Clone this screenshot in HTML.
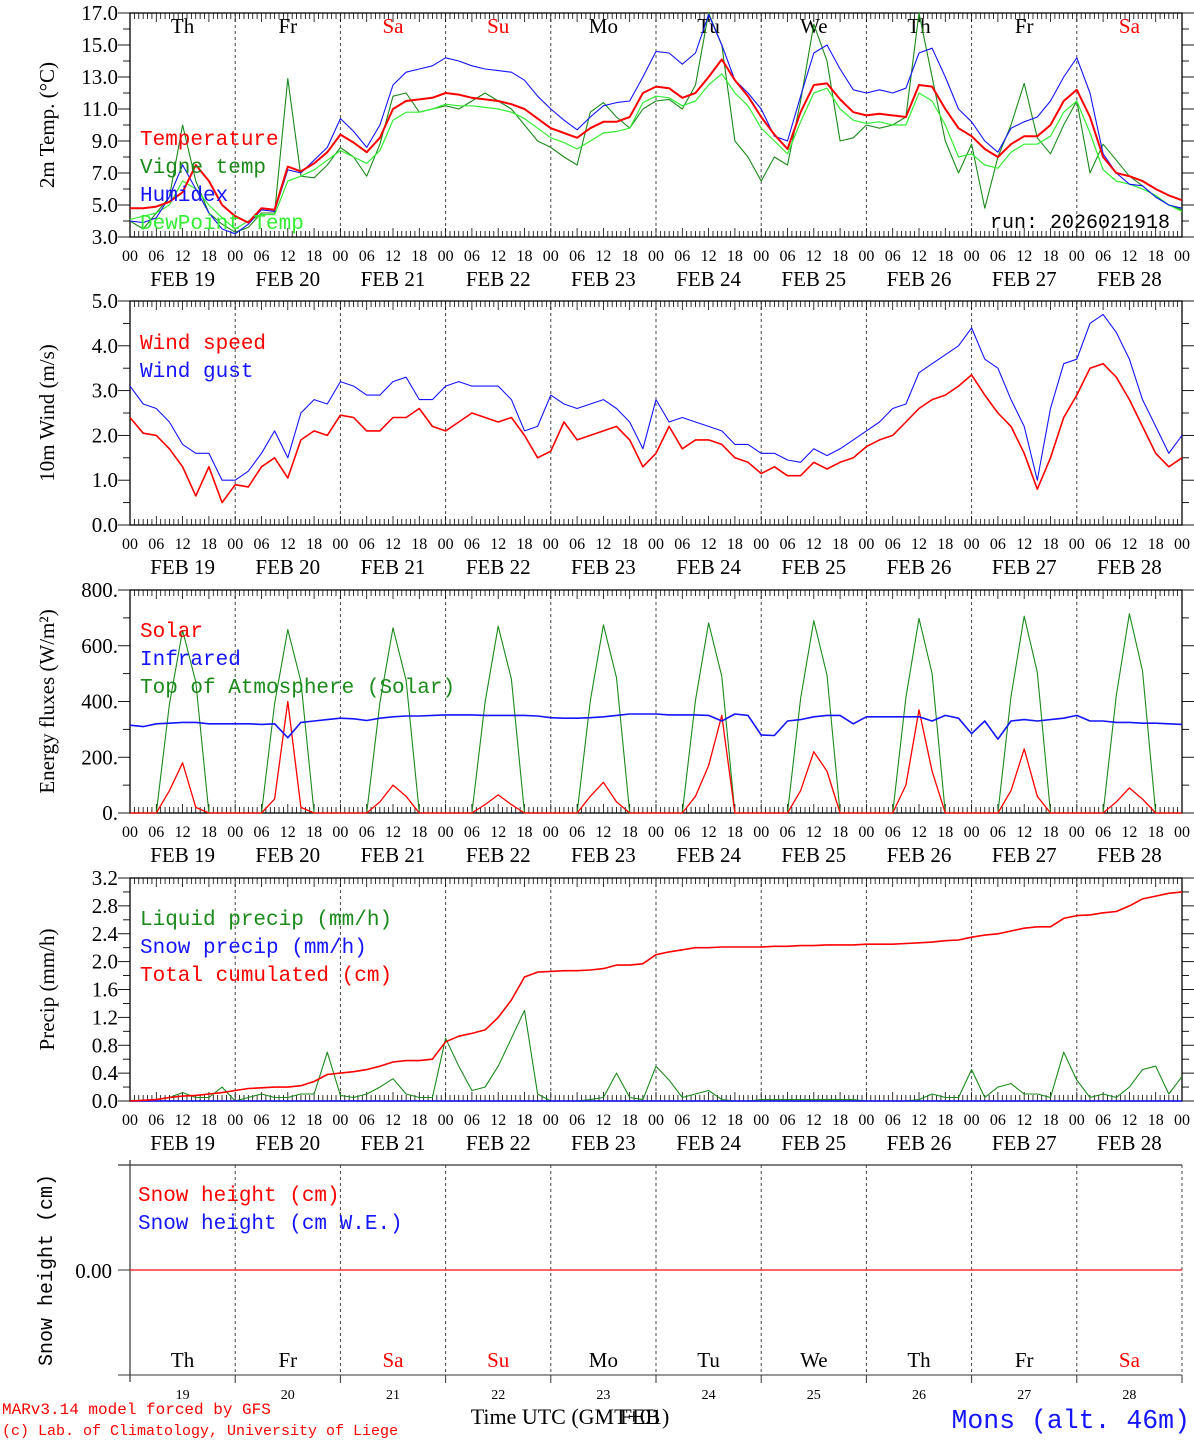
<!DOCTYPE html>
<html><head><meta charset="utf-8"><style>
body{margin:0;background:#fff}
svg{display:block}
</style></head><body>
<svg id="c" width="1194" height="1440" viewBox="0 0 1194 1440" xmlns="http://www.w3.org/2000/svg"></svg>
<script>
const days=['Th','Fr','Sa','Su','Mo','Tu','We','Th','Fr','Sa'];
const dayNums=['19','20','21','22','23','24','25','26','27','28'];
const temp=[4.8,4.8,4.9,5.2,5.8,7.5,6.5,5.0, 4.3,3.9,4.8,4.7,7.4,7.1,7.6,8.3, 9.4,8.9,8.3,9.2,11.0,11.5,11.6,11.7, 12.0,11.9,11.7,11.6,11.5,11.3,11.0,10.4, 9.8,9.5,9.2,9.8,10.2,10.2,10.5,12.0, 12.4,12.3,11.7,12.0,13.0,14.1,12.8,11.8, 10.5,9.4,8.5,10.8,12.5,12.6,11.6,10.8, 10.6,10.7,10.6,10.5,12.5,12.4,11.0,9.8, 9.3,8.5,8.0,8.8,9.3,9.3,10.0,11.5, 12.2,10.5,8.0,7.0,6.8,6.5,6.0,5.6,5.3];
const vigne=[4.0,3.5,4.5,5.5,10.0,6.5,4.5,3.8, 3.3,3.6,4.5,4.5,12.9,6.8,6.7,7.5, 8.6,8.0,6.8,8.8,11.8,12.0,10.8,11.0, 11.2,11.0,11.5,12.0,11.5,11.0,10.0,9.0, 8.6,8.0,7.5,10.8,11.4,10.5,9.8,11.0, 11.5,11.6,11.0,12.5,17.0,15.0,9.0,8.0, 6.5,8.0,7.5,11.5,16.3,14.0,9.0,9.2, 10.0,9.8,10.0,10.5,17.0,13.0,9.0,7.0, 8.8,4.8,8.0,10.0,12.6,9.2,8.2,10.0, 11.5,7.0,8.8,7.8,6.8,6.2,5.5,5.0,4.7];
const humidex=[4.0,3.9,4.2,5.5,7.5,6.0,4.5,3.5, 3.2,3.8,4.7,4.6,7.2,7.0,7.8,8.6, 10.4,9.6,8.6,10.0,12.5,13.3,13.5,13.7, 14.2,14.0,13.7,13.5,13.4,13.3,12.8,11.8, 11.0,10.3,9.7,10.5,11.2,11.4,11.5,13.0, 14.6,14.5,13.8,14.5,16.9,15.0,12.8,12.0, 11.0,9.3,9.0,11.8,14.5,15.0,13.5,12.2, 12.0,12.2,12.0,12.3,14.5,14.8,13.0,11.0, 10.2,9.0,8.3,9.8,10.2,10.5,11.5,13.0, 14.2,12.0,8.2,7.0,6.3,6.2,5.5,5.0,4.8];
const dewpt=[4.1,4.3,4.5,5.0,6.5,6.0,5.0,4.2, 3.5,4.0,4.4,4.4,6.5,6.8,7.2,7.8, 8.4,8.0,7.6,8.4,10.3,10.8,10.8,11.0, 11.3,11.2,11.2,11.1,11.0,10.8,10.4,9.8, 9.2,8.9,8.5,9.0,9.5,9.6,9.8,11.4, 11.8,11.7,11.2,11.5,12.5,13.2,12.0,11.2, 9.8,9.0,8.2,10.2,12.0,12.3,11.0,10.3, 10.1,10.2,10.0,10.0,12.0,11.5,10.0,8.0, 8.2,7.5,7.3,8.3,8.8,8.8,9.3,10.8, 11.5,9.5,7.2,6.5,6.3,6.0,5.6,5.0,4.6];
const windSpeed=[2.4,2.05,2.0,1.7,1.3,0.65,1.3,0.5, 0.9,0.85,1.3,1.5,1.05,1.9,2.1,2.0, 2.45,2.4,2.1,2.1,2.4,2.4,2.6,2.2, 2.1,2.3,2.5,2.4,2.3,2.4,2.0,1.5, 1.65,2.3,1.9,2.0,2.1,2.2,1.9,1.3, 1.6,2.2,1.7,1.9,1.9,1.8,1.5,1.4, 1.15,1.3,1.1,1.1,1.4,1.25,1.4,1.5, 1.75,1.9,2.0,2.3,2.6,2.8,2.9,3.1, 3.35,2.9,2.5,2.2,1.6,0.8,1.5,2.4, 2.9,3.5,3.6,3.3,2.8,2.2,1.6,1.3,1.5];
const windGust=[3.1,2.7,2.6,2.3,1.8,1.6,1.6,1.0, 1.0,1.2,1.6,2.1,1.5,2.5,2.8,2.7, 3.2,3.1,2.9,2.9,3.2,3.3,2.8,2.8, 3.1,3.2,3.1,3.1,3.1,2.8,2.1,2.2, 2.9,2.7,2.6,2.7,2.8,2.6,2.3,1.7, 2.8,2.3,2.4,2.3,2.2,2.1,1.8,1.8, 1.6,1.6,1.45,1.4,1.7,1.55,1.7,1.9, 2.1,2.3,2.6,2.7,3.4,3.6,3.8,4.0, 4.4,3.7,3.5,2.8,2.2,1.0,2.6,3.6, 3.7,4.5,4.7,4.3,3.7,2.8,2.2,1.6,2.0];
const solar=[0,0,0,80,180,20,0,0, 0,0,0,50,400,20,0,0, 0,0,0,40,100,60,0,0, 0,0,0,30,65,30,0,0, 0,0,0,60,110,40,0,0, 0,0,0,60,170,350,0,0, 0,0,0,80,220,150,0,0, 0,0,0,100,370,150,0,0, 0,0,0,80,230,60,0,0, 0,0,0,40,90,50,0,0,0];
const infrared=[315,310,320,322,325,325,320,320, 320,320,318,320,270,325,330,335, 340,338,332,340,345,348,348,350, 352,352,352,350,350,350,350,348, 342,340,340,342,345,350,355,355, 355,352,352,352,350,330,355,350, 280,278,330,335,345,350,350,320, 345,345,345,345,345,330,350,340, 285,330,265,330,335,330,335,340, 350,330,330,325,325,322,322,320,318];
const toa=[0,0,0,390,655,470,0,0, 0,0,0,392,658,472,0,0, 0,0,0,395,664,476,0,0, 0,0,0,398,670,480,0,0, 0,0,0,402,675,485,0,0, 0,0,0,405,682,490,0,0, 0,0,0,410,690,495,0,0, 0,0,0,414,698,500,0,0, 0,0,0,418,706,505,0,0, 0,0,0,422,715,510,0,0,0];
const liquid=[0,0,0.02,0.05,0.12,0.05,0.05,0.2, 0,0.05,0.1,0.05,0.05,0.1,0.1,0.7, 0.08,0.05,0.1,0.2,0.32,0.1,0.05,0.05, 0.9,0.5,0.15,0.2,0.5,0.9,1.3,0.1, 0,0,0,0.02,0.05,0.4,0.05,0.02, 0.5,0.3,0.05,0.1,0.15,0.02,0,0, 0.02,0.02,0.02,0.02,0.02,0.02,0.02,0.02, 0,0,0,0,0.02,0.1,0.05,0.05, 0.45,0.05,0.2,0.25,0.1,0.1,0.05,0.7, 0.3,0.05,0.1,0.05,0.2,0.45,0.5,0.1,0.35];
const snowPrecip=new Array(81).fill(0);
const cumul=[0,0.01,0.02,0.05,0.07,0.08,0.1,0.12, 0.15,0.18,0.19,0.2,0.2,0.22,0.28,0.38, 0.4,0.42,0.45,0.5,0.56,0.58,0.58,0.6, 0.85,0.93,0.97,1.02,1.2,1.45,1.78,1.85, 1.86,1.87,1.87,1.88,1.9,1.95,1.95,1.97, 2.1,2.14,2.17,2.2,2.2,2.21,2.21,2.21, 2.21,2.22,2.22,2.23,2.23,2.24,2.24,2.24, 2.25,2.25,2.25,2.26,2.27,2.28,2.3,2.31, 2.35,2.38,2.4,2.44,2.48,2.5,2.5,2.62, 2.66,2.67,2.7,2.72,2.8,2.9,2.94,2.98,3.0];
const snowHeight=new Array(81).fill(0);

const NS='http://www.w3.org/2000/svg';
const svg=document.getElementById('c');
const X0=130,X1=1182;
const SERIF='"Liberation Serif",serif', MONO='"Liberation Mono",monospace';
function x(i){return X0+(X1-X0)*i/80;}
function mk(tag,attrs,parent){const e=document.createElementNS(NS,tag);for(const k in attrs)e.setAttribute(k,attrs[k]);(parent||svg).appendChild(e);return e;}
function txt(s,px,py,font,size,anchor,fill){const e=mk('text',{x:px,y:py,'text-anchor':anchor||'middle'});
 e.setAttribute('style',`font-family:${font};font-size:${size}px;fill:${fill||'#000'}`);e.textContent=s;return e;}

const panels=[
 {name:'temperature',top:13,bot:237,min:3,max:17,major:[3,5,7,9,11,13,15,17],minor:1,fmt:v=>v.toFixed(1),title:'2m Temp. (\u00B0C)'},
 {name:'wind',top:301,bot:525,min:0,max:5,major:[0,1,2,3,4,5],minor:0.5,fmt:v=>v.toFixed(1),title:'10m Wind (m/s)'},
 {name:'energy',top:590,bot:813,min:0,max:800,major:[0,200,400,600,800],minor:100,fmt:v=>v+'.',title:'Energy fluxes (W/m\u00B2)'},
 {name:'precip',top:878,bot:1101,min:0,max:3.2,major:[0,0.4,0.8,1.2,1.6,2.0,2.4,2.8,3.2],minor:0.2,fmt:v=>v.toFixed(1),title:'Precip (mm/h)'}
];
function yf(p,v){return p.bot-(v-p.min)/(p.max-p.min)*(p.bot-p.top);}

panels.forEach((p,pi)=>{
 const g=mk('g',{});
 
 
 mk('rect',{x:X0,y:p.top,width:X1-X0,height:p.bot-p.top,fill:'none',stroke:'#000','stroke-width':1.3},g);
 for(let d=1;d<10;d++){const l=mk('line',{x1:x(d*8),x2:x(d*8),y1:p.top,y2:p.bot,stroke:'#444','stroke-dasharray':'3,3','stroke-width':1},g);}
 for(let h=0;h<=240;h++){const xx=X0+(X1-X0)*h/240;const len=h%6==0?9:6;
  mk('line',{x1:xx,x2:xx,y1:p.top,y2:p.top+len,stroke:'#000','stroke-width':0.8},g);
  mk('line',{x1:xx,x2:xx,y1:p.bot,y2:p.bot-len,stroke:'#000','stroke-width':0.8},g);}
 for(let v=p.min;v<=p.max+1e-9;v+=p.minor){const yy=yf(p,v);const maj=p.major.some(m=>Math.abs(m-v)<1e-6);
  mk('line',{x1:X0-(maj?12:7),x2:X0,y1:yy,y2:yy,stroke:'#000','stroke-width':0.9},g);
  mk('line',{x1:X1,x2:X1+(maj?12:7),y1:yy,y2:yy,stroke:'#000','stroke-width':0.9},g);}
 p.major.forEach(v=>{const t=txt(p.fmt(v),X0-12,yf(p,v)+7,SERIF,21,'end');});
 const cy=(p.top+p.bot)/2;
 const yt=txt(p.title,0,0,SERIF,21,'middle');yt.setAttribute('transform',`translate(54,${cy}) rotate(-90)`);
 
 for(let d=0;d<10;d++){['00','06','12','18'].forEach((h,k)=>{txt(h,x(d*8+k*2),p.bot+24,SERIF,16,'middle');});
  const f=txt('FEB '+dayNums[d],x(d*8+4),p.bot+49,SERIF,21,'middle');
  }
 txt('00',X1,p.bot+24,SERIF,16,'middle');
});
days.forEach((d,i)=>{const t=txt(d,x(i*8+4),33,SERIF,21,'middle',(d=='Sa'||d=='Su')?'#f00':'#000');});

function line(p,arr,color,w,name){let d='';arr.forEach((v,i)=>{d+=(i?'L':'M')+x(i).toFixed(1)+','+yf(p,v).toFixed(1);});
 const e=mk('path',{d:d,fill:'none',stroke:color,'stroke-width':w,'stroke-linejoin':'round'});
 return e;}
const P=panels;
line(P[0],vigne,'#1a8a1a',1.1,'vigne-temp-line');
line(P[0],dewpt,'#33ee33',1.2,'dewpoint-line');
line(P[0],humidex,'#1414ff',1.1,'humidex-line');
line(P[0],temp,'#ff0000',2,'temperature-line');
line(P[1],windGust,'#1414ff',1.1,'wind-gust-line');
line(P[1],windSpeed,'#ff0000',1.6,'wind-speed-line');
line(P[2],toa,'#1a8a1a',1.1,'toa-solar-line');
line(P[2],solar,'#ff0000',1.3,'solar-line');
line(P[2],infrared,'#1414ff',1.6,'infrared-line');
line(P[3],liquid,'#1a8a1a',1.1,'liquid-precip-line');
line(P[3],snowPrecip,'#1414ff',1.6,'snow-precip-line');
line(P[3],cumul,'#ff0000',1.6,'cumulated-precip-line');

function legend(items,x0,y0){items.forEach((it,i)=>{const t=txt(it[0],x0,y0+i*28,MONO,21,'start',it[1]);});}
legend([['Temperature','#f00'],['Vigne temp','#1a8a1a'],['Humidex','#1414ff'],['DewPoint Temp','#33ee33']],140,145);
legend([['Wind speed','#f00'],['Wind gust','#1414ff']],140,349);
legend([['Solar','#f00'],['Infrared','#1414ff'],['Top of Atmosphere (Solar)','#1a8a1a']],140,637);
legend([['Liquid precip (mm/h)','#1a8a1a'],['Snow precip (mm/h)','#1414ff'],['Total cumulated (cm)','#f00']],140,925);
const run=txt('run: 2026021918',1170,228,MONO,20,'end','#000');


const sg=mk('g',{});
mk('line',{x1:118,x2:X1,y1:1165,y2:1165,stroke:'#333','stroke-width':1.2},sg);
mk('line',{x1:118,x2:X1,y1:1375,y2:1375,stroke:'#777','stroke-width':1.5},sg);
mk('line',{x1:X0,x2:X0,y1:1160,y2:1382,stroke:'#333','stroke-width':1.2},sg);
mk('line',{x1:118,x2:X0,y1:1270,y2:1270,stroke:'#333'},sg);
for(let d=1;d<=10;d++){mk('line',{x1:x(d*8),x2:x(d*8),y1:1165,y2:1375,stroke:'#444','stroke-dasharray':'3,3'},sg);mk('line',{x1:x(d*8),x2:x(d*8),y1:1375,y2:1383,stroke:'#333'},sg);}
let sd='';snowHeight.forEach((v,i)=>{sd+=(i?'L':'M')+x(i).toFixed(1)+','+(1270-v*50).toFixed(1);});
const sl=mk('path',{d:sd,fill:'none',stroke:'#f33','stroke-width':1.6},sg);
txt('0.00',112,1278,SERIF,21,'end');
const st=txt('Snow height (cm)',0,0,MONO,20,'middle');st.setAttribute('transform','translate(52,1270) rotate(-90)');

legend([['Snow height (cm)','#f00'],['Snow height (cm W.E.)','#1414ff']],138,1201);
days.forEach((d,i)=>{txt(d,x(i*8+4),1367,SERIF,21,'middle',(d=='Sa'||d=='Su')?'#f00':'#000');
 txt(dayNums[i],x(i*8+4),1399,SERIF,14,'middle');});
const c1=txt('MARv3.14 model forced by GFS',2,1414,MONO,16,'start','#f00');

txt('(c) Lab. of Climatology, University of Liege',2,1435,MONO,15,'start','#f00');
const xt=txt('Time UTC (GMT+01)',570,1424,SERIF,22,'middle');

txt('FEB',640,1424,SERIF,22,'middle');
const loc=txt('Mons (alt. 46m)',1190,1428,MONO,26.5,'end','#1414ff');

</script>
</body></html>
